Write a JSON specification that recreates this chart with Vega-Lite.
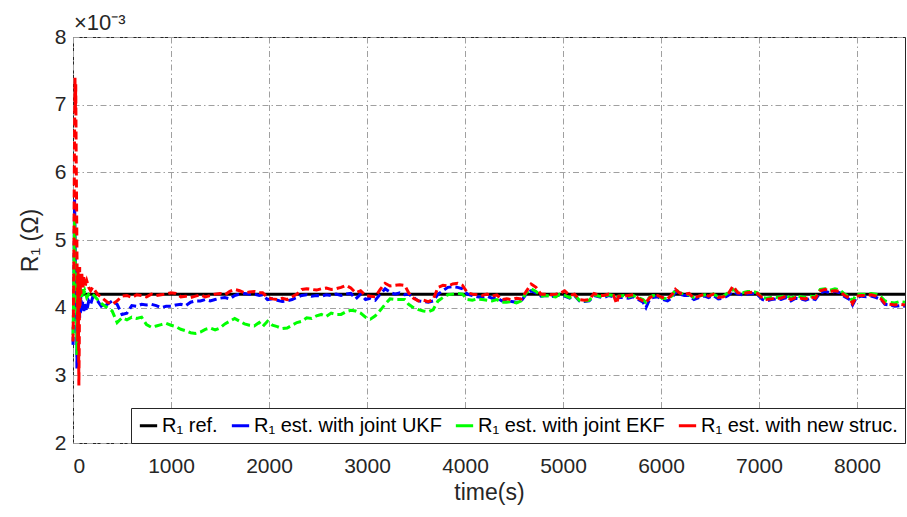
{
  "$schema": "https://vega.github.io/schema/vega-lite/v6.json",
  "autosize": {"type": "none"},
  "width": 832,
  "height": 406,
  "padding": {"left": 73, "top": 37, "right": 2, "bottom": 74},
  "background": "white",
  "title": {"text": "×10⁻³", "anchor": "start", "frame": "group", "fontSize": 22, "font": "Liberation Sans", "fontWeight": "normal", "color": "#262626", "offset": 2, "dx": 1, "dy": 11},
  "config": {
    "view": {"stroke": "#262626", "strokeWidth": 1},
    "axis": {"labelFont": "Liberation Sans", "titleFont": "Liberation Sans", "labelFontSize": 21, "titleFontSize": 23, "titleFontWeight": "normal", "labelColor": "#262626", "titleColor": "#262626", "gridColor": "#a0a0a0", "gridDash": [6, 3, 1.5, 3], "gridWidth": 1, "ticks": false, "domain": false},
    "legend": {"labelFont": "Liberation Sans", "labelFontSize": 20, "labelColor": "#000000"}
  },
  "datasets": {
    "ref": [{"t": 0, "v": 4.2, "s": "ref"}, {"t": 8490, "v": 4.2, "s": "ref"}],
    "est": [
      {"t": 0, "u": 3.45, "e": 3.6, "n": 3.5},
      {"t": 4, "u": 3.7, "e": 3.9, "n": 3.9},
      {"t": 8, "u": 4.2, "e": 4.3, "n": 4.6},
      {"t": 12, "u": 4.9, "e": 4.8, "n": 5.6},
      {"t": 16, "u": 5.6, "e": 5.3, "n": 6.6},
      {"t": 20, "u": 5.2, "e": 5.0, "n": 7.4},
      {"t": 24, "u": 4.7, "e": 4.6, "n": 6.9},
      {"t": 28, "u": 4.3, "e": 4.4, "n": 7.3},
      {"t": 32, "u": 4.6, "e": 4.5, "n": 6.3},
      {"t": 36, "u": 4.0, "e": 4.2, "n": 5.6},
      {"t": 40, "u": 3.1, "e": 3.3, "n": 4.9},
      {"t": 44, "u": 3.9, "e": 4.0, "n": 4.2},
      {"t": 48, "u": 4.3, "e": 4.4, "n": 3.5},
      {"t": 52, "u": 3.8, "e": 4.1, "n": 4.6},
      {"t": 56, "u": 4.2, "e": 4.3, "n": 3.7},
      {"t": 60, "u": 3.9, "e": 4.0, "n": 2.85},
      {"t": 64, "u": 4.1, "e": 4.2, "n": 3.5},
      {"t": 68, "u": 3.85, "e": 4.1, "n": 4.6},
      {"t": 72, "u": 4.15, "e": 4.3, "n": 4.0},
      {"t": 76, "u": 3.9, "e": 4.2, "n": 4.5},
      {"t": 80, "u": 4.2, "e": 4.25, "n": 4.2},
      {"t": 90, "u": 3.95, "e": 4.15, "n": 4.5},
      {"t": 100, "u": 4.1, "e": 4.3, "n": 4.3},
      {"t": 110, "u": 3.95, "e": 4.2, "n": 4.45},
      {"t": 120, "u": 4.05, "e": 4.25, "n": 4.3},
      {"t": 140, "u": 3.95, "e": 4.15, "n": 4.4},
      {"t": 160, "u": 4.1, "e": 4.2, "n": 4.3},
      {"t": 180, "u": 4.05, "e": 4.22, "n": 4.25},
      {"t": 200, "u": 4.15, "e": 4.2, "n": 4.3},
      {"t": 250, "u": 4.1, "e": 4.12, "n": 4.2},
      {"t": 300, "u": 4.0, "e": 4.05, "n": 4.14},
      {"t": 350, "u": 4.05, "e": 4.0, "n": 4.08},
      {"t": 400, "u": 4.1, "e": 3.95, "n": 4.05},
      {"t": 450, "u": 4.05, "e": 3.78, "n": 4.1},
      {"t": 500, "u": 3.9, "e": 3.85, "n": 4.17},
      {"t": 550, "u": 3.92, "e": 3.82, "n": 4.18},
      {"t": 600, "u": 4.03, "e": 3.86, "n": 4.15},
      {"t": 650, "u": 4.02, "e": 3.84, "n": 4.19},
      {"t": 700, "u": 4.05, "e": 3.86, "n": 4.18},
      {"t": 750, "u": 4.04, "e": 3.75, "n": 4.16},
      {"t": 800, "u": 4.05, "e": 3.71, "n": 4.2},
      {"t": 850, "u": 4.03, "e": 3.73, "n": 4.18},
      {"t": 900, "u": 4.0, "e": 3.75, "n": 4.19},
      {"t": 950, "u": 4.02, "e": 3.77, "n": 4.2},
      {"t": 1000, "u": 4.02, "e": 3.74, "n": 4.22},
      {"t": 1050, "u": 4.04, "e": 3.72, "n": 4.21},
      {"t": 1100, "u": 4.05, "e": 3.68, "n": 4.16},
      {"t": 1150, "u": 4.03, "e": 3.66, "n": 4.17},
      {"t": 1200, "u": 4.08, "e": 3.63, "n": 4.15},
      {"t": 1250, "u": 4.1, "e": 3.62, "n": 4.17},
      {"t": 1300, "u": 4.1, "e": 3.64, "n": 4.19},
      {"t": 1350, "u": 4.12, "e": 3.68, "n": 4.16},
      {"t": 1400, "u": 4.1, "e": 3.7, "n": 4.18},
      {"t": 1450, "u": 4.12, "e": 3.67, "n": 4.2},
      {"t": 1500, "u": 4.14, "e": 3.7, "n": 4.21},
      {"t": 1550, "u": 4.15, "e": 3.76, "n": 4.19},
      {"t": 1600, "u": 4.13, "e": 3.8, "n": 4.24},
      {"t": 1650, "u": 4.18, "e": 3.84, "n": 4.27},
      {"t": 1700, "u": 4.2, "e": 3.8, "n": 4.25},
      {"t": 1750, "u": 4.21, "e": 3.76, "n": 4.22},
      {"t": 1800, "u": 4.2, "e": 3.74, "n": 4.23},
      {"t": 1850, "u": 4.2, "e": 3.73, "n": 4.24},
      {"t": 1900, "u": 4.18, "e": 3.78, "n": 4.22},
      {"t": 1935, "u": 4.19, "e": 3.72, "n": 4.22},
      {"t": 1985, "u": 4.12, "e": 3.8, "n": 4.15},
      {"t": 2035, "u": 4.13, "e": 3.74, "n": 4.13},
      {"t": 2085, "u": 4.11, "e": 3.72, "n": 4.12},
      {"t": 2135, "u": 4.09, "e": 3.69, "n": 4.14},
      {"t": 2185, "u": 4.1, "e": 3.7, "n": 4.12},
      {"t": 2235, "u": 4.12, "e": 3.74, "n": 4.16},
      {"t": 2285, "u": 4.15, "e": 3.78, "n": 4.2},
      {"t": 2335, "u": 4.18, "e": 3.8, "n": 4.27},
      {"t": 2385, "u": 4.19, "e": 3.85, "n": 4.28},
      {"t": 2435, "u": 4.17, "e": 3.84, "n": 4.27},
      {"t": 2485, "u": 4.18, "e": 3.88, "n": 4.26},
      {"t": 2535, "u": 4.17, "e": 3.9, "n": 4.28},
      {"t": 2585, "u": 4.19, "e": 3.87, "n": 4.29},
      {"t": 2635, "u": 4.18, "e": 3.92, "n": 4.27},
      {"t": 2685, "u": 4.2, "e": 3.9, "n": 4.28},
      {"t": 2735, "u": 4.18, "e": 3.9, "n": 4.3},
      {"t": 2785, "u": 4.2, "e": 3.94, "n": 4.33},
      {"t": 2835, "u": 4.21, "e": 3.96, "n": 4.29},
      {"t": 2885, "u": 4.13, "e": 3.95, "n": 4.22},
      {"t": 2935, "u": 4.2, "e": 3.92, "n": 4.25},
      {"t": 2985, "u": 4.12, "e": 3.86, "n": 4.18},
      {"t": 3035, "u": 4.14, "e": 3.83, "n": 4.17},
      {"t": 3085, "u": 4.11, "e": 3.88, "n": 4.16},
      {"t": 3135, "u": 4.2, "e": 3.96, "n": 4.27},
      {"t": 3185, "u": 4.28, "e": 4.05, "n": 4.36},
      {"t": 3235, "u": 4.23, "e": 4.13, "n": 4.32},
      {"t": 3285, "u": 4.2, "e": 4.12, "n": 4.33},
      {"t": 3335, "u": 4.22, "e": 4.12, "n": 4.34},
      {"t": 3385, "u": 4.19, "e": 4.12, "n": 4.33},
      {"t": 3425, "u": 4.2, "e": 4.05, "n": 4.22},
      {"t": 3475, "u": 4.15, "e": 4.0, "n": 4.14},
      {"t": 3525, "u": 4.1, "e": 3.97, "n": 4.1},
      {"t": 3575, "u": 4.09, "e": 3.95, "n": 4.11},
      {"t": 3625, "u": 4.08, "e": 3.94, "n": 4.09},
      {"t": 3675, "u": 4.1, "e": 3.97, "n": 4.12},
      {"t": 3725, "u": 4.2, "e": 4.1, "n": 4.3},
      {"t": 3775, "u": 4.25, "e": 4.15, "n": 4.33},
      {"t": 3825, "u": 4.3, "e": 4.19, "n": 4.32},
      {"t": 3875, "u": 4.31, "e": 4.2, "n": 4.35},
      {"t": 3925, "u": 4.3, "e": 4.21, "n": 4.36},
      {"t": 3975, "u": 4.28, "e": 4.2, "n": 4.33},
      {"t": 4025, "u": 4.2, "e": 4.12, "n": 4.22},
      {"t": 4075, "u": 4.18, "e": 4.11, "n": 4.2},
      {"t": 4125, "u": 4.16, "e": 4.13, "n": 4.19},
      {"t": 4175, "u": 4.15, "e": 4.12, "n": 4.18},
      {"t": 4225, "u": 4.17, "e": 4.11, "n": 4.2},
      {"t": 4275, "u": 4.14, "e": 4.1, "n": 4.17},
      {"t": 4325, "u": 4.15, "e": 4.12, "n": 4.19},
      {"t": 4375, "u": 4.1, "e": 4.08, "n": 4.12},
      {"t": 4425, "u": 4.12, "e": 4.08, "n": 4.13},
      {"t": 4475, "u": 4.09, "e": 4.09, "n": 4.12},
      {"t": 4525, "u": 4.08, "e": 4.07, "n": 4.14},
      {"t": 4575, "u": 4.1, "e": 4.1, "n": 4.13},
      {"t": 4625, "u": 4.2, "e": 4.22, "n": 4.24},
      {"t": 4675, "u": 4.25, "e": 4.28, "n": 4.35},
      {"t": 4725, "u": 4.22, "e": 4.24, "n": 4.3},
      {"t": 4775, "u": 4.17, "e": 4.17, "n": 4.2},
      {"t": 4825, "u": 4.18, "e": 4.18, "n": 4.2},
      {"t": 4875, "u": 4.16, "e": 4.17, "n": 4.19},
      {"t": 4925, "u": 4.18, "e": 4.16, "n": 4.2},
      {"t": 4967, "u": 4.18, "e": 4.2, "n": 4.21},
      {"t": 5017, "u": 4.17, "e": 4.18, "n": 4.25},
      {"t": 5067, "u": 4.14, "e": 4.15, "n": 4.18},
      {"t": 5117, "u": 4.18, "e": 4.19, "n": 4.2},
      {"t": 5167, "u": 4.1, "e": 4.11, "n": 4.12},
      {"t": 5217, "u": 4.09, "e": 4.1, "n": 4.11},
      {"t": 5267, "u": 4.1, "e": 4.11, "n": 4.12},
      {"t": 5317, "u": 4.18, "e": 4.19, "n": 4.21},
      {"t": 5367, "u": 4.16, "e": 4.17, "n": 4.18},
      {"t": 5417, "u": 4.15, "e": 4.17, "n": 4.18},
      {"t": 5467, "u": 4.18, "e": 4.19, "n": 4.2},
      {"t": 5517, "u": 4.16, "e": 4.18, "n": 4.18},
      {"t": 5547, "u": 4.12, "e": 4.15, "n": 4.06},
      {"t": 5567, "u": 4.15, "e": 4.17, "n": 4.17},
      {"t": 5617, "u": 4.15, "e": 4.18, "n": 4.17},
      {"t": 5667, "u": 4.14, "e": 4.16, "n": 4.18},
      {"t": 5717, "u": 4.16, "e": 4.18, "n": 4.19},
      {"t": 5767, "u": 4.12, "e": 4.15, "n": 4.14},
      {"t": 5817, "u": 4.08, "e": 4.12, "n": 4.1},
      {"t": 5847, "u": 4.0, "e": 4.08, "n": 4.08},
      {"t": 5887, "u": 4.13, "e": 4.16, "n": 4.15},
      {"t": 5917, "u": 4.15, "e": 4.18, "n": 4.17},
      {"t": 5967, "u": 4.16, "e": 4.17, "n": 4.18},
      {"t": 6017, "u": 4.12, "e": 4.14, "n": 4.15},
      {"t": 6067, "u": 4.1, "e": 4.13, "n": 4.13},
      {"t": 6117, "u": 4.15, "e": 4.18, "n": 4.2},
      {"t": 6147, "u": 4.24, "e": 4.28, "n": 4.27},
      {"t": 6187, "u": 4.2, "e": 4.22, "n": 4.22},
      {"t": 6237, "u": 4.18, "e": 4.2, "n": 4.2},
      {"t": 6287, "u": 4.18, "e": 4.19, "n": 4.21},
      {"t": 6337, "u": 4.12, "e": 4.15, "n": 4.14},
      {"t": 6387, "u": 4.15, "e": 4.17, "n": 4.17},
      {"t": 6447, "u": 4.17, "e": 4.19, "n": 4.2},
      {"t": 6485, "u": 4.15, "e": 4.18, "n": 4.17},
      {"t": 6535, "u": 4.18, "e": 4.2, "n": 4.2},
      {"t": 6585, "u": 4.13, "e": 4.16, "n": 4.15},
      {"t": 6635, "u": 4.14, "e": 4.17, "n": 4.16},
      {"t": 6685, "u": 4.18, "e": 4.22, "n": 4.2},
      {"t": 6735, "u": 4.24, "e": 4.27, "n": 4.32},
      {"t": 6785, "u": 4.2, "e": 4.23, "n": 4.22},
      {"t": 6835, "u": 4.19, "e": 4.22, "n": 4.21},
      {"t": 6885, "u": 4.2, "e": 4.24, "n": 4.22},
      {"t": 6935, "u": 4.21, "e": 4.24, "n": 4.23},
      {"t": 6985, "u": 4.19, "e": 4.22, "n": 4.21},
      {"t": 7035, "u": 4.12, "e": 4.15, "n": 4.14},
      {"t": 7075, "u": 4.1, "e": 4.14, "n": 4.12},
      {"t": 7125, "u": 4.12, "e": 4.15, "n": 4.13},
      {"t": 7175, "u": 4.13, "e": 4.15, "n": 4.14},
      {"t": 7225, "u": 4.12, "e": 4.16, "n": 4.14},
      {"t": 7275, "u": 4.15, "e": 4.18, "n": 4.17},
      {"t": 7325, "u": 4.1, "e": 4.14, "n": 4.12},
      {"t": 7375, "u": 4.14, "e": 4.17, "n": 4.15},
      {"t": 7425, "u": 4.13, "e": 4.16, "n": 4.14},
      {"t": 7475, "u": 4.11, "e": 4.15, "n": 4.13},
      {"t": 7525, "u": 4.14, "e": 4.17, "n": 4.16},
      {"t": 7575, "u": 4.12, "e": 4.16, "n": 4.14},
      {"t": 7625, "u": 4.22, "e": 4.27, "n": 4.25},
      {"t": 7675, "u": 4.24, "e": 4.28, "n": 4.27},
      {"t": 7725, "u": 4.22, "e": 4.26, "n": 4.24},
      {"t": 7775, "u": 4.24, "e": 4.28, "n": 4.25},
      {"t": 7825, "u": 4.22, "e": 4.26, "n": 4.24},
      {"t": 7875, "u": 4.16, "e": 4.2, "n": 4.18},
      {"t": 7925, "u": 4.12, "e": 4.16, "n": 4.14},
      {"t": 7955, "u": 4.04, "e": 4.1, "n": 4.06},
      {"t": 7995, "u": 4.15, "e": 4.2, "n": 4.17},
      {"t": 8045, "u": 4.17, "e": 4.2, "n": 4.18},
      {"t": 8095, "u": 4.16, "e": 4.2, "n": 4.18},
      {"t": 8145, "u": 4.17, "e": 4.21, "n": 4.19},
      {"t": 8195, "u": 4.15, "e": 4.2, "n": 4.17},
      {"t": 8245, "u": 4.12, "e": 4.16, "n": 4.13},
      {"t": 8285, "u": 4.05, "e": 4.1, "n": 4.06},
      {"t": 8335, "u": 4.04, "e": 4.08, "n": 4.05},
      {"t": 8385, "u": 4.02, "e": 4.07, "n": 4.04},
      {"t": 8435, "u": 4.03, "e": 4.09, "n": 4.05},
      {"t": 8490, "u": 4.02, "e": 4.08, "n": 4.04}
    ]
  },
  "encoding": {
    "x": {"field": "t", "type": "quantitative", "title": "time(s)", "scale": {"domain": [0, 8490], "nice": false, "zero": false}, "axis": {"values": [0, 1000, 2000, 3000, 4000, 5000, 6000, 7000, 8000], "format": "d", "labelPadding": 12, "titlePadding": 5, "grid": true}},
    "y": {"field": "v", "type": "quantitative", "title": "R₁ (Ω)", "scale": {"domain": [2, 8], "nice": false, "zero": false}, "axis": {"values": [2, 3, 4, 5, 6, 7, 8], "labelPadding": 7, "titlePadding": 12, "grid": true}},
    "color": {"field": "s", "type": "nominal", "scale": {"domain": ["ref", "u", "e", "n"], "range": ["#000000", "#0000ff", "#00ff00", "#ff0000"]},
      "legend": {"title": null, "orient": "bottom-right", "direction": "horizontal", "offset": 0, "symbolType": "stroke", "symbolStrokeWidth": 3, "symbolSize": 300, "symbolDash": [], "labelOffset": 3, "columnPadding": 7, "padding": 7, "strokeColor": "#262626", "fillColor": "white", "labelLimit": 400,
        "labelExpr": "datum.value == 'ref' ? 'R₁ ref.' : datum.value == 'u' ? 'R₁ est. with joint UKF' : datum.value == 'e' ? 'R₁ est. with joint EKF' : 'R₁ est. with new struc.'"}}
  },
  "layer": [
    {"data": {"name": "ref"}, "mark": {"type": "line", "strokeWidth": 3}},
    {"data": {"name": "est"},
     "transform": [{"fold": ["u", "e", "n"], "as": ["s", "v"]}],
     "mark": {"type": "line", "strokeWidth": 3, "strokeDash": [8, 4]}}
  ]
}
